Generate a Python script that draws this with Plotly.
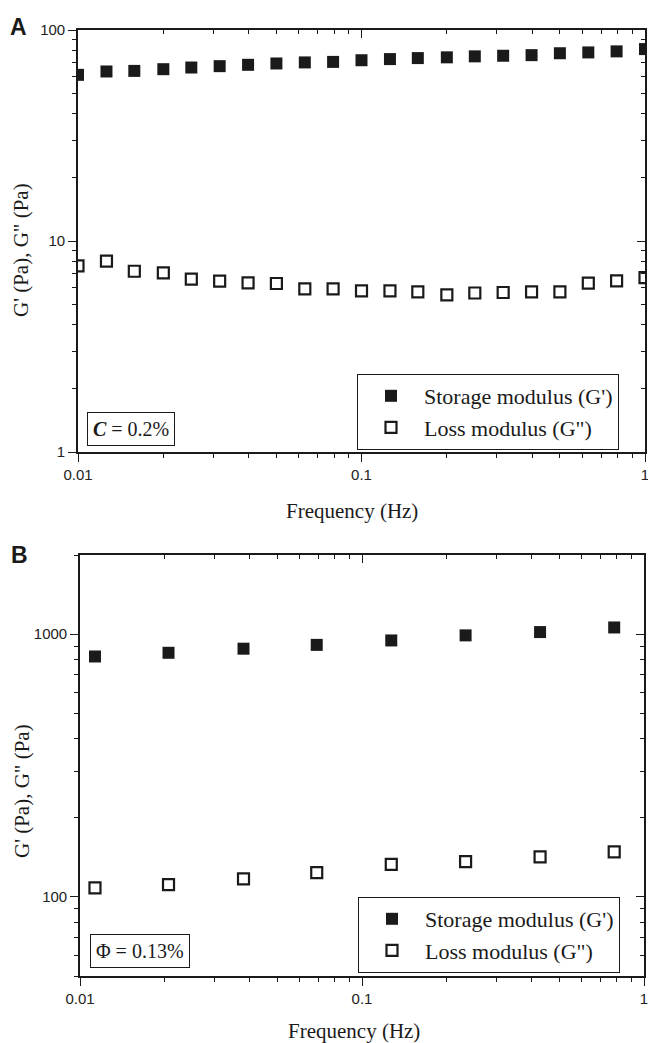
import plotly.graph_objects as go

# ---------------- data ----------------
freq_a = [0.01, 0.0126, 0.0158, 0.02, 0.0251, 0.0316, 0.0398, 0.0501, 0.0631, 0.0794,
          0.1, 0.126, 0.158, 0.2, 0.251, 0.316, 0.398, 0.501, 0.631, 0.794, 1.0]
storage_a = [61.3, 63.6, 64.0, 65.2, 66.4, 67.4, 68.4, 69.4, 70.2, 70.6,
             71.9, 72.8, 73.6, 74.2, 75.0, 75.5, 76.0, 77.6, 78.3, 79.2, 81.2]
loss_a = [7.63, 8.03, 7.19, 7.06, 6.59, 6.45, 6.33, 6.29, 5.93, 5.93,
          5.80, 5.80, 5.74, 5.55, 5.67, 5.70, 5.74, 5.74, 6.31, 6.47, 6.71]

freq_b = [0.0113, 0.0206, 0.0380, 0.0691, 0.127, 0.233, 0.428, 0.784]
storage_b = [822, 849, 880, 910, 946, 989, 1018, 1060]
loss_b = [108.2, 111.3, 117.0, 123.6, 132.9, 136.2, 141.9, 148.3]

x_tick_vals = [0.01, 0.1, 1]
x_tick_text = ["0.01", "0.1", "1"]
ya_tick_vals = [1, 10, 100]
ya_tick_text = ["1", "10", "100"]
yb_tick_vals = [100, 1000]
yb_tick_text = ["100", "1000"]

series_names = ["Storage modulus (G')", 'Loss modulus (G")']
x_title = "Frequency (Hz)"
y_title = 'G\' (Pa), G" (Pa)'
note_a = "<b><i>C</i></b> = 0.2%"
note_b = "Φ = 0.13%"

# ---------------- style ----------------
W, H = 648, 1043
SERIF = "Liberation Serif"
SANS = "Liberation Sans"
INK = "#1a1a1a"


def px_x(v):
    return v / W


def px_y(v):
    return 1 - v / H


dom_xa = [px_x(78), px_x(645)]
dom_ya = [px_y(452), px_y(30)]
dom_xb = [px_x(80), px_x(644)]
dom_yb = [px_y(976), px_y(555)]

fig = go.Figure()

filled = dict(symbol="square", size=12, color=INK, line=dict(width=0))
hollow = dict(symbol="square-open", size=11, color=INK, line=dict(width=2.2, color=INK))

fig.add_trace(go.Scatter(x=freq_a, y=storage_a, mode="markers", name=series_names[0],
                         marker=filled, xaxis="x", yaxis="y", legend="legend"))
fig.add_trace(go.Scatter(x=freq_a, y=loss_a, mode="markers", name=series_names[1],
                         marker=hollow, xaxis="x", yaxis="y", legend="legend"))
fig.add_trace(go.Scatter(x=freq_b, y=storage_b, mode="markers", name=series_names[0],
                         marker=filled, xaxis="x2", yaxis="y2", legend="legend2"))
fig.add_trace(go.Scatter(x=freq_b, y=loss_b, mode="markers", name=series_names[1],
                         marker=hollow, xaxis="x2", yaxis="y2", legend="legend2"))

# invisible carriers so that the mirrored (top / right) axes get drawn
fig.add_trace(go.Scatter(x=freq_a, y=storage_a, mode="markers", marker=dict(opacity=0),
                         xaxis="x3", yaxis="y3", showlegend=False, hoverinfo="skip"))
fig.add_trace(go.Scatter(x=freq_b, y=storage_b, mode="markers", marker=dict(opacity=0),
                         xaxis="x4", yaxis="y4", showlegend=False, hoverinfo="skip"))

tickfont = dict(family=SANS, size=15, color="#222")
minor_out = dict(ticks="outside", ticklen=4, tickwidth=1.2, tickcolor=INK, dtick="D1", showgrid=False)
minor_in = dict(ticks="inside", ticklen=4, tickwidth=1.2, tickcolor=INK, dtick="D1", showgrid=False)

base_axis = dict(type="log", showgrid=False, zeroline=False, showline=True, automargin=False,
                 linecolor=INK, linewidth=1.6, ticks="outside", ticklen=8,
                 tickwidth=1.2, tickcolor=INK, tickfont=tickfont, ticklabeloverflow="allow")

overlay_axis = dict(type="log", showgrid=False, zeroline=False, showline=True, automargin=False,
                    linecolor=INK, linewidth=1.6, ticks="inside", ticklen=8,
                    tickwidth=1.2, tickcolor=INK, showticklabels=False)

xr = [-2, 0]
yra = [0, 2]
yrb = [1.69897, 3.30103]

fig.update_layout(
    xaxis=dict(base_axis, domain=dom_xa, range=xr, anchor="y", tickmode="array",
               tickvals=x_tick_vals, ticktext=x_tick_text, minor=minor_out),
    yaxis=dict(base_axis, domain=dom_ya, range=yra, anchor="x", tickmode="array",
               tickvals=ya_tick_vals, ticktext=ya_tick_text, minor=minor_out),
    xaxis2=dict(base_axis, domain=dom_xb, range=xr, anchor="y2", tickmode="array",
                tickvals=x_tick_vals, ticktext=x_tick_text, minor=minor_out),
    yaxis2=dict(base_axis, domain=dom_yb, range=yrb, anchor="x2", tickmode="array",
                tickvals=yb_tick_vals, ticktext=yb_tick_text, minor=minor_out),
    xaxis3=dict(overlay_axis, domain=dom_xa, range=xr, overlaying="x", side="top", anchor="y",
                tickmode="array", tickvals=x_tick_vals, minor=minor_in),
    yaxis3=dict(overlay_axis, domain=dom_ya, range=yra, overlaying="y", side="right", anchor="x",
                tickmode="array", tickvals=ya_tick_vals, minor=minor_in),
    xaxis4=dict(overlay_axis, domain=dom_xb, range=xr, overlaying="x2", side="top", anchor="y2",
                tickmode="array", tickvals=x_tick_vals, minor=minor_in),
    yaxis4=dict(overlay_axis, domain=dom_yb, range=yrb, overlaying="y2", side="right", anchor="x2",
                tickmode="array", tickvals=yb_tick_vals, minor=minor_in),
)

legend_common = dict(bgcolor="white", bordercolor=INK, borderwidth=1,
                     font=dict(family=SERIF, size=22, color=INK),
                     xanchor="left", yanchor="middle", itemwidth=56,
                     tracegroupgap=0)
fig.update_layout(
    legend=dict(legend_common, x=px_x(357), y=px_y(412)),
    legend2=dict(legend_common, x=px_x(358), y=px_y(935)),
)

annotations = [
    dict(text="<b>A</b>", x=px_x(18), y=px_y(27), xref="paper", yref="paper", showarrow=False,
         font=dict(family=SANS, size=23, color=INK), xanchor="center", yanchor="middle"),
    dict(text="<b>B</b>", x=px_x(19), y=px_y(555), xref="paper", yref="paper", showarrow=False,
         font=dict(family=SANS, size=23, color=INK), xanchor="center", yanchor="middle"),
    dict(text=x_title, x=px_x(352), y=px_y(511), xref="paper", yref="paper", showarrow=False,
         font=dict(family=SERIF, size=21, color=INK), xanchor="center", yanchor="middle"),
    dict(text=x_title, x=px_x(354), y=px_y(1031), xref="paper", yref="paper", showarrow=False,
         font=dict(family=SERIF, size=21, color=INK), xanchor="center", yanchor="middle"),
    dict(text=y_title, x=px_x(21), y=px_y(250), xref="paper", yref="paper", showarrow=False,
         textangle=-90, font=dict(family=SERIF, size=21, color=INK), xanchor="center", yanchor="middle"),
    dict(text=y_title, x=px_x(22), y=px_y(791), xref="paper", yref="paper", showarrow=False,
         textangle=-90, font=dict(family=SERIF, size=21, color=INK), xanchor="center", yanchor="middle"),
    dict(text=note_a, x=px_x(87), y=px_y(412), xref="paper", yref="paper", showarrow=False,
         font=dict(family=SERIF, size=20, color=INK), xanchor="left", yanchor="top",
         bordercolor=INK, borderwidth=1, borderpad=5, bgcolor="white"),
    dict(text=note_b, x=px_x(90), y=px_y(934), xref="paper", yref="paper", showarrow=False,
         font=dict(family=SERIF, size=20, color=INK), xanchor="left", yanchor="top",
         bordercolor=INK, borderwidth=1, borderpad=5, bgcolor="white"),
]

fig.update_layout(
    width=W, height=H,
    margin=dict(l=0, r=0, t=0, b=0),
    paper_bgcolor="white", plot_bgcolor="white",
    annotations=annotations,
    showlegend=True,
)

fig.write_html("out.html", config={"displayModeBar": False},
               post_script="document.body.style.margin='0';document.body.style.overflow='hidden';")
